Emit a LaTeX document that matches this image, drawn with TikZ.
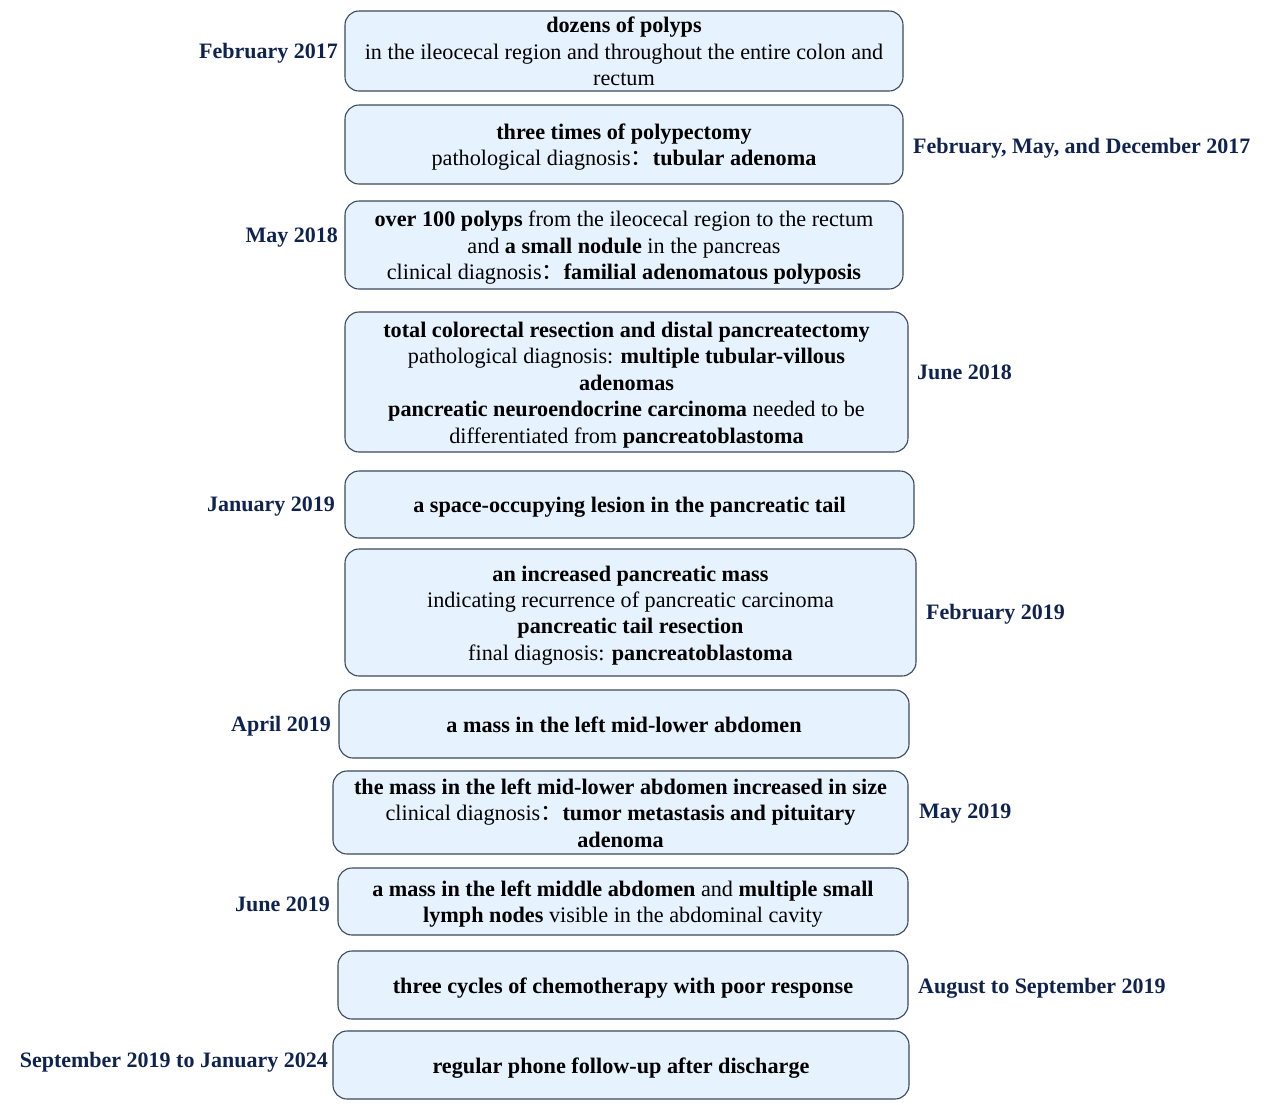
\documentclass[tikz,border=0pt]{standalone}
\usepackage{fontspec}
\setmainfont{Liberation Serif}
\newfontfamily\cjk{Noto Sans CJK SC}
\definecolor{boxfill}{HTML}{E6F2FD}
\definecolor{boxline}{HTML}{3A4A5C}
\definecolor{datecol}{HTML}{0F2350}
\newcommand{\fc}{{\cjk：}}
\newcommand{\lowtab}[1]{\raisebox{-3pt}[\height][\depth]{\begin{tabular}{@{}c@{}}#1\end{tabular}}}
\tikzset{
  evbox/.style={draw=boxline, line width=1.1pt, fill=boxfill, rounded corners=14pt,
    inner sep=0pt, font=\fontsize{22.2}{26.4}\selectfont},
  datel/.style={text=datecol, font=\fontsize{22}{26}\selectfont\bfseries, inner sep=0pt, anchor=east},
  dater/.style={text=datecol, font=\fontsize{22}{26}\selectfont\bfseries, inner sep=0pt, anchor=west},
}
\newcommand{\evb}[6]{% name, x1, y1, x2, y2, text
  \node[evbox, minimum width=#4pt-#2pt, minimum height=#5pt-#3pt] (#1) at ({(#2+#4)/2*1pt}, {-(#3+#5)/2*1pt}) {\lowtab{#6}};}
\begin{document}
\begin{tikzpicture}
\useasboundingbox (0,0) rectangle (1272pt,-1104pt);
\evb{b1}{345}{11}{903}{91}{\textbf{dozens of polyps}\\in the ileocecal region and throughout the entire colon and\\rectum}
\evb{b2}{345}{105}{903}{184}{\textbf{three times of polypectomy}\\pathological diagnosis\fc\textbf{tubular adenoma}}
\evb{b3}{345}{201}{903}{289}{\textbf{over 100 polyps} from the ileocecal region to the rectum\\and \textbf{a small nodule} in the pancreas\\clinical diagnosis\fc\textbf{familial adenomatous polyposis}}
\evb{b4}{345}{312}{908}{452}{\textbf{total colorectal resection and distal pancreatectomy}\\pathological diagnosis: \textbf{multiple tubular-villous}\\\textbf{adenomas}\\\textbf{pancreatic neuroendocrine carcinoma} needed to be\\differentiated from \textbf{pancreatoblastoma}}
\evb{b5}{345}{471}{914}{538}{\textbf{a space-occupying lesion in the pancreatic tail}}
\evb{b6}{345}{549}{916}{676}{\textbf{an increased pancreatic mass}\\indicating recurrence of pancreatic carcinoma\\\textbf{pancreatic tail resection}\\final diagnosis: \textbf{pancreatoblastoma}}
\evb{b7}{339}{690}{909}{758}{\textbf{a mass in the left mid-lower abdomen}}
\evb{b8}{333}{771}{908}{854}{\textbf{the mass in the left mid-lower abdomen increased in size}\\clinical diagnosis\fc\textbf{tumor metastasis and pituitary}\\\textbf{adenoma}}
\evb{b9}{338}{868}{908}{935}{\textbf{a mass in the left middle abdomen} and \textbf{multiple small}\\\textbf{lymph nodes} visible in the abdominal cavity}
\evb{b10}{338}{951}{908}{1019}{\textbf{three cycles of chemotherapy with poor response}}
\evb{b11}{333}{1031}{909}{1099}{\textbf{regular phone follow-up after discharge}}
\node[datel] (d1) at (338pt,-53pt) {February 2017};
\node[dater] (d2) at (913pt,-148pt) {February, May, and December 2017};
\node[datel] (d3) at (338pt,-238pt) {May 2018};
\node[dater] (d4) at (917pt,-372pt) {June 2018};
\node[datel] (d5) at (335pt,-507pt) {January 2019};
\node[dater] (d6) at (926pt,-614pt) {February 2019};
\node[datel] (d7) at (331pt,-726pt) {April 2019};
\node[dater] (d8) at (919pt,-814pt) {May 2019};
\node[datel] (d9) at (330pt,-904pt) {June 2019};
\node[dater] (d10) at (918pt,-988pt) {August to September 2019};
\node[datel] (d11) at (328pt,-1062pt) {September 2019 to January 2024};
\end{tikzpicture}
\end{document}
